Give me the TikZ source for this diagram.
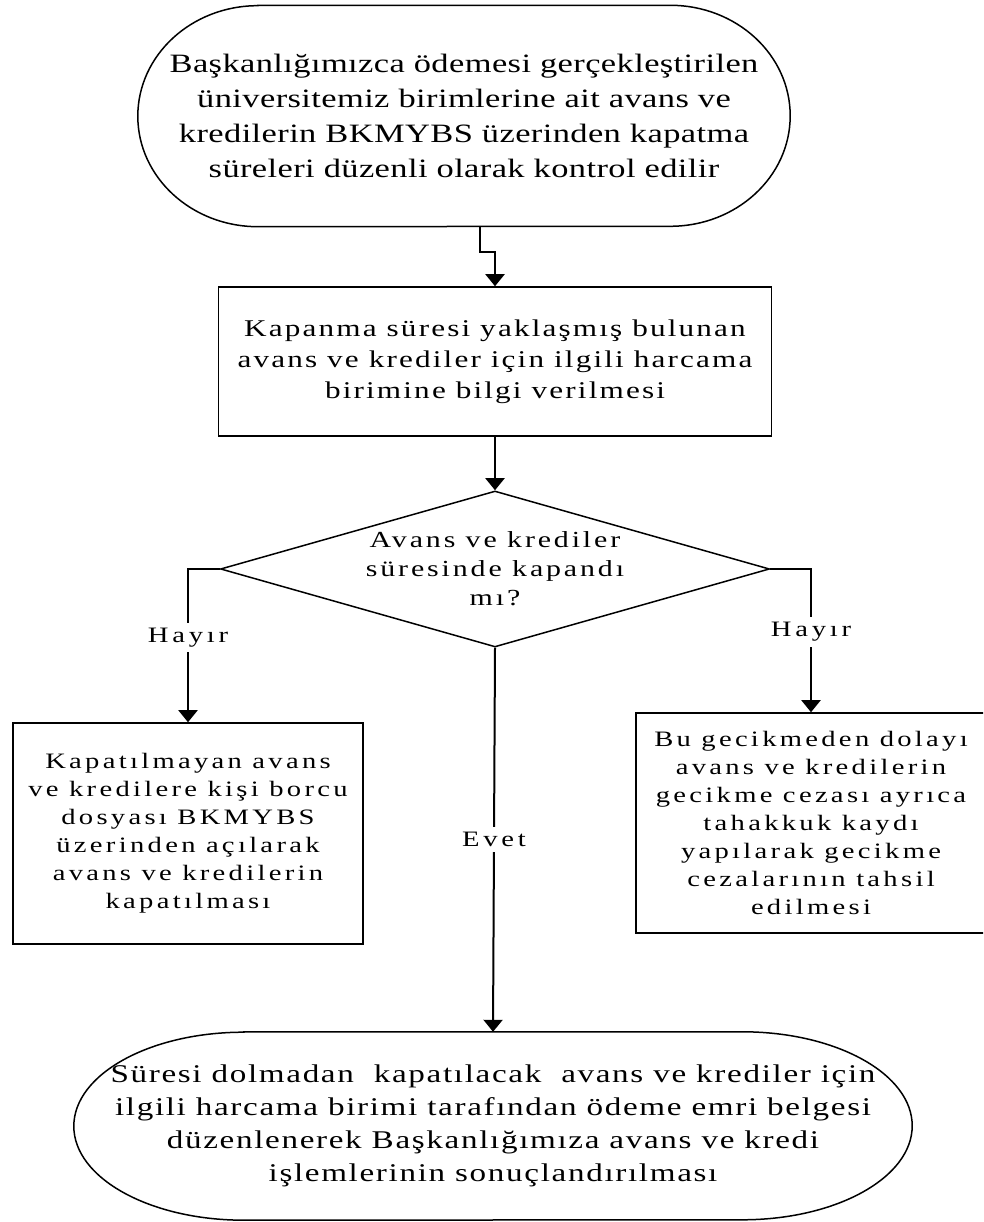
\documentclass[tikz,border=0pt]{standalone}
\usepackage{fontspec}
\setmainfont{Liberation Serif}
\newfontfamily\ftop[FakeStretch=1.3,LetterSpace=1.5]{Liberation Serif}
\newfontfamily\fmid[FakeStretch=1.3,LetterSpace=9]{Liberation Serif}
\newfontfamily\fdia[FakeStretch=1.3,LetterSpace=12.5]{Liberation Serif}
\newfontfamily\fbot[FakeStretch=1.3,LetterSpace=6.5]{Liberation Serif}
\newfontfamily\fsmall[FakeStretch=1.3,LetterSpace=15]{Liberation Serif}
\newfontfamily\flabel[FakeStretch=1.3,LetterSpace=17]{Liberation Serif}
\usetikzlibrary{shapes.geometric,arrows.meta}
\begin{document}
\begin{tikzpicture}[x=1pt,y=1pt,
  every node/.style={align=center, inner sep=0pt},
  outline/.style={line width=1.5pt},
  boxnode/.style={draw, rectangle, line width=1.5pt},
  arr/.style={line width=2pt, -{Triangle[length=12pt,width=19pt]}},
  lbl/.style={fill=white, inner xsep=3pt, inner ysep=5pt, font=\flabel\fontsize{22}{28}\selectfont},
]
\useasboundingbox (0,0) rectangle (983,1222);
\clip (0,0) rectangle (983,1222);
\fill[white] (0,0) rectangle (983,1222);

% start terminator
\node[font=\ftop\fontsize{26.5}{35}\selectfont, minimum width=652pt, minimum height=221pt] (start) at (464,1106)
  {Başkanlığımızca ödemesi gerçekleştirilen\\üniversitemiz birimlerine ait avans ve\\kredilerin BKMYBS üzerinden kapatma\\süreleri düzenli olarak kontrol edilir};
\draw[outline] ([xshift=120pt]start.north west) -- ([xshift=-120pt]start.north east)
  arc[start angle=90,end angle=-90,x radius=120pt,y radius=110.5pt]
  -- ([xshift=120pt]start.south west)
  arc[start angle=270,end angle=90,x radius=120pt,y radius=110.5pt] -- cycle;

% info box
\node[boxnode, font=\fmid\fontsize{24}{31}\selectfont, minimum width=553pt, minimum height=149pt] (info) at (495,860.5)
  {Kapanma süresi yaklaşmış bulunan\\avans ve krediler için ilgili harcama\\birimine bilgi verilmesi};

% decision
\node[draw, shape=diamond, line width=1.5pt, minimum width=549pt, minimum height=156pt, inner sep=-10pt, aspect=3.5,
  font=\fdia\fontsize{23}{29}\selectfont] (dec) at (495,653)
  {Avans ve krediler\\süresinde kapandı\\mı?};

% left box
\node[boxnode, font=\fsmall\fontsize{22}{28}\selectfont, minimum width=350pt, minimum height=221pt] (left) at (188,388.5)
  {Kapatılmayan avans\\ve kredilere kişi borcu\\dosyası BKMYBS\\üzerinden açılarak\\avans ve kredilerin\\kapatılması};

% right box
\node[boxnode, font=\fsmall\fontsize{22}{28}\selectfont, minimum width=350pt, minimum height=220pt] (right) at (811,399)
  {Bu gecikmeden dolayı\\avans ve kredilerin\\gecikme cezası ayrıca\\tahakkuk kaydı\\yapılarak gecikme\\cezalarının tahsil\\edilmesi};

% end terminator
\node[font=\fbot\fontsize{25.5}{33}\selectfont, minimum width=838pt, minimum height=188pt] (end) at (493,96)
  {Süresi dolmadan\ \ kapatılacak\ \ avans ve krediler için\\ilgili harcama birimi tarafından ödeme emri belgesi\\düzenlenerek Başkanlığımıza avans ve kredi\\işlemlerinin sonuçlandırılması};
\draw[outline] ([xshift=170pt]end.north west) -- ([xshift=-170pt]end.north east)
  arc[start angle=90,end angle=-90,x radius=170pt,y radius=94pt]
  -- ([xshift=170pt]end.south west)
  arc[start angle=270,end angle=90,x radius=170pt,y radius=94pt] -- cycle;

% connectors
\draw[arr] ([xshift=16pt]start.south) -- ++(0,-25pt) -| (info.north);
\draw[arr] (info.south) -- (dec.north);
\draw[arr] (dec.west) -| node[lbl, pos=0.724] (h1) {Hayır} (left.north);
\draw[arr] (dec.east) -| node[lbl, pos=0.72] (h2) {Hayır} (right.north);
\draw[arr] (dec.south) -- node[lbl, pos=0.5] (ev) {Evet} (end.north);
\end{tikzpicture}
\end{document}
